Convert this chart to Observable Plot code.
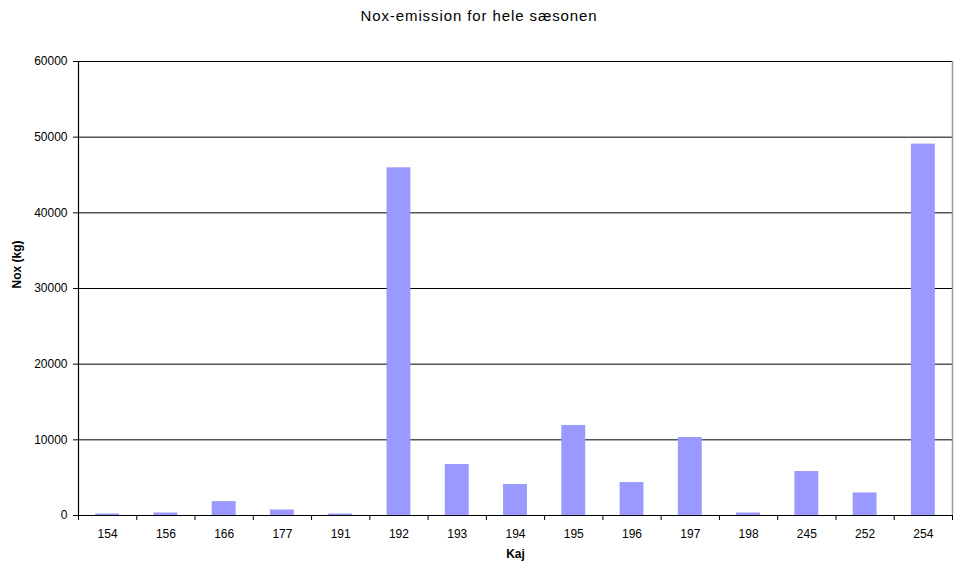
<!DOCTYPE html>
<html>
<head>
<meta charset="utf-8">
<script src="https://cdn.jsdelivr.net/npm/d3@7"></script>
<script src="https://cdn.jsdelivr.net/npm/@observablehq/plot@0.6"></script>
<style>
  body { margin: 0; background: #fff; font-family: "Liberation Sans", Arial, sans-serif; }
  #title { height: 32px; line-height: 32px; text-align: center; font-size: 15px; letter-spacing: 0.9px; color: #000; padding-left: 4px; }
  svg { display: block; }
</style>
</head>
<body>
<div id="title">Nox-emission for hele sæsonen</div>
<div id="chart"></div>
<script>
// Kaj (quay) numbers and total NOx emission per quay, kg
const kaj = ["154", "156", "166", "177", "191", "192", "193", "194", "195", "196", "197", "198", "245", "252", "254"];
const noxKg = [200, 330, 1830, 730, 200, 45950, 6740, 4090, 11900, 4350, 10310, 330, 5810, 2980, 49080];
const yTicks = [0, 10000, 20000, 30000, 40000, 50000, 60000];

const rows = kaj.map((k, i) => ({kaj: k, i, nox: noxKg[i]}));
const barHalf = 0.205;

const chart = Plot.plot({
  width: 954,
  height: 532,
  marginLeft: 78,
  marginRight: 2,
  marginTop: 29,
  marginBottom: 49,
  style: {fontFamily: "'Liberation Sans', Arial, sans-serif", fontSize: "12px", color: "#000", background: "#fff"},
  x: {domain: [0, kaj.length]},
  y: {domain: [0, 60000]},
  marks: [
    // horizontal gridlines
    Plot.ruleY(yTicks.slice(1), {stroke: "#000", strokeWidth: 1}),
    // right border of plot area
    Plot.ruleX([kaj.length], {stroke: "#999", strokeWidth: 1.5}),
    Plot.rectY(rows, {
      x1: d => d.i + 0.5 - barHalf,
      x2: d => d.i + 0.5 + barHalf,
      y: "nox",
      fill: "#9999ff"
    }),
    // category boundary tick marks
    Plot.axisX({ticks: d3.range(kaj.length + 1), tickSize: 5, tickFormat: () => "", label: null, stroke: "#000"}),
    // category labels centred in each slot
    Plot.axisX({
      ticks: d3.range(kaj.length).map(i => i + 0.5),
      tickSize: 0,
      tickPadding: 14,
      tickFormat: t => kaj[Math.floor(t)],
      label: null,
      fontSize: 12
    }),
    Plot.axisY({ticks: yTicks, tickSize: 5, tickPadding: 6, tickFormat: d => String(d), label: null, fontSize: 12}),
    Plot.ruleX([0], {stroke: "#000", strokeWidth: 1.2}),
    Plot.ruleY([0], {stroke: "#000", strokeWidth: 1.2}),
    Plot.text(["Kaj"], {frameAnchor: "bottom", dy: 42, fontWeight: "bold", fontSize: 12}),
    Plot.text(["Nox (kg)"], {frameAnchor: "left", dx: -61, rotate: -90, fontWeight: "bold", fontSize: 12})
  ]
});
document.getElementById("chart").append(chart);
</script>
</body>
</html>
